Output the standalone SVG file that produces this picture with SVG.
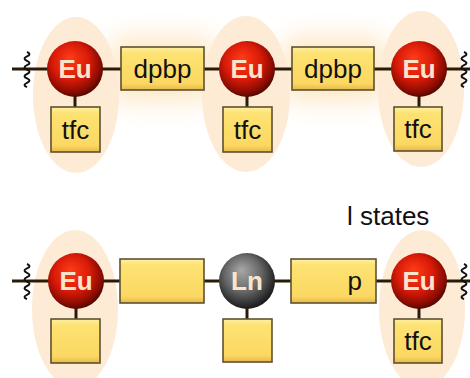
<svg xmlns="http://www.w3.org/2000/svg" width="470" height="378" viewBox="0 0 470 378">
<defs>
<style>
.hl{fill:#fdebd6}
.ln{stroke:#2a1a08;stroke-width:3;fill:none}
.box{fill:url(#boxg);stroke:#5d5230;stroke-width:1.6}
.t{font-family:"Liberation Sans",Arial,sans-serif;font-size:26px;fill:#111}
.st{font-family:"Liberation Sans",Arial,sans-serif;font-size:26px;font-weight:bold;fill:#fbe4cc;text-anchor:middle}
.wv{stroke:#111;stroke-width:2;fill:none}
</style>
<radialGradient id="eu" cx="0.45" cy="0.42" r="0.6" fx="0.4" fy="0.3">
<stop offset="0" stop-color="#ff3c18"/>
<stop offset="0.55" stop-color="#d81a08"/>
<stop offset="0.85" stop-color="#8a0c02"/>
<stop offset="1" stop-color="#4a0600"/>
</radialGradient>
<radialGradient id="lng" cx="0.45" cy="0.42" r="0.6" fx="0.4" fy="0.3">
<stop offset="0" stop-color="#a8a8a8"/>
<stop offset="0.55" stop-color="#666"/>
<stop offset="1" stop-color="#151515"/>
</radialGradient>
<linearGradient id="boxg" x1="0" y1="0" x2="0" y2="1">
<stop offset="0" stop-color="#fff0a0"/>
<stop offset="0.15" stop-color="#fde272"/>
<stop offset="0.85" stop-color="#fbd862"/>
<stop offset="1" stop-color="#e6b84a"/>
</linearGradient>
<filter id="blur" x="-50%" y="-50%" width="200%" height="200%"><feGaussianBlur stdDeviation="13"/></filter>
<path id="wave" d="M0,-17 q5,2.2 0,4.4 q-5,2.2 0,4.4 q5,2.2 0,4.4 q-5,2.2 0,4.4 q5,2.2 0,4.4 q-5,2.2 0,4.4 q5,2.2 0,4.4 q-5,2.2 0,4.4"/>
</defs>

<g id="glow" filter="url(#blur)" fill="#fde2b8" opacity="0.8">
<rect x="108" y="36" width="110" height="66" rx="22"/>
<rect x="280" y="36" width="110" height="66" rx="22"/>
</g>

<g id="halos">
<ellipse class="hl" cx="76" cy="95" rx="43" ry="78"/>
<ellipse class="hl" cx="246" cy="94" rx="44" ry="78"/>
<ellipse class="hl" cx="421" cy="89" rx="43" ry="78"/>
<ellipse class="hl" cx="75" cy="309" rx="43" ry="79"/>
<ellipse class="hl" cx="422" cy="309" rx="43" ry="79"/>
</g>

<g id="connectors">
<line class="ln" x1="12" y1="69" x2="470" y2="69"/>
<line class="ln" x1="75" y1="95" x2="75" y2="108"/>
<line class="ln" x1="247" y1="95" x2="247" y2="108"/>
<line class="ln" x1="419" y1="95" x2="419" y2="108"/>
<line class="ln" x1="12" y1="281" x2="470" y2="281"/>
<line class="ln" x1="76" y1="306" x2="76" y2="320"/>
<line class="ln" x1="247" y1="306" x2="247" y2="320"/>
<line class="ln" x1="419" y1="306" x2="419" y2="320"/>
<use href="#wave" class="wv" x="27" y="69"/>
<use href="#wave" class="wv" x="464" y="69"/>
<use href="#wave" class="wv" x="27" y="281"/>
<use href="#wave" class="wv" x="464" y="281"/>
</g>

<g id="eu1"><circle cx="75" cy="69" r="28" fill="url(#eu)"/><text class="st" x="75" y="78">Eu</text></g>
<g id="tfc1"><rect class="box" x="51" y="107" width="49" height="45"/><text class="t" x="75.5" y="139" text-anchor="middle">tfc</text></g>
<g id="dpbp1"><rect class="box" x="121" y="47" width="83" height="43"/><text class="t" x="162.5" y="78" text-anchor="middle">dpbp</text></g>
<g id="eu2"><circle cx="247" cy="69" r="28" fill="url(#eu)"/><text class="st" x="247" y="78">Eu</text></g>
<g id="tfc2"><rect class="box" x="223" y="107" width="49" height="45"/><text class="t" x="247.5" y="139" text-anchor="middle">tfc</text></g>
<g id="dpbp2"><rect class="box" x="292" y="47" width="82" height="43"/><text class="t" x="333" y="78" text-anchor="middle">dpbp</text></g>
<g id="eu3"><circle cx="419" cy="69" r="28" fill="url(#eu)"/><text class="st" x="419" y="78">Eu</text></g>
<g id="tfc3"><rect class="box" x="394" y="107" width="48" height="44"/><text class="t" x="418" y="138" text-anchor="middle">tfc</text></g>

<g id="eu4"><circle cx="76" cy="281" r="28" fill="url(#eu)"/><text class="st" x="76" y="290">Eu</text></g>
<g id="box4"><rect class="box" x="51" y="319" width="49" height="44"/></g>
<g id="box5"><rect class="box" x="120" y="259" width="84" height="44"/></g>
<g id="ln"><circle cx="247" cy="281" r="28" fill="url(#lng)"/><text class="st" x="247" y="290">Ln</text></g>
<g id="box6"><rect class="box" x="223" y="319" width="49" height="43"/></g>
<g id="p"><rect class="box" x="291" y="259" width="85" height="44"/><text class="t" x="362" y="290" text-anchor="end">p</text></g>
<g id="eu5"><circle cx="419" cy="281" r="28" fill="url(#eu)"/><text class="st" x="419" y="290">Eu</text></g>
<g id="tfc4"><rect class="box" x="394" y="319" width="48" height="44"/><text class="t" x="418" y="350" text-anchor="middle">tfc</text></g>

<text id="lstates" class="t" x="347" y="225">l states</text>
</svg>
